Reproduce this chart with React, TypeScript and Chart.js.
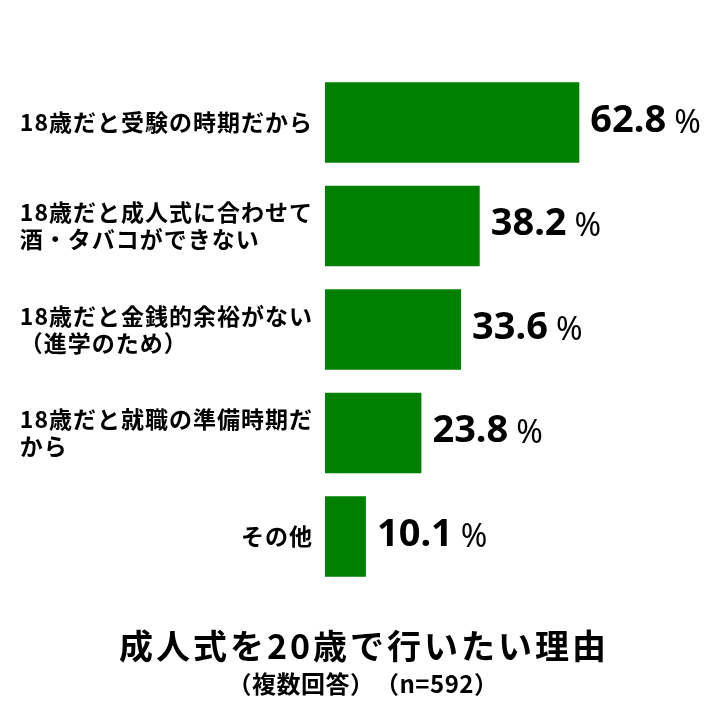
import React, { useEffect, useRef } from 'react';
import { Chart, registerables } from 'chart.js';

Chart.register(...registerables);

// category labels, one array entry per line
const categories: string[][] = [
  ['18歳だと受験の時期だから'],
  ['18歳だと成人式に合わせて', '酒・タバコができない'],
  ['18歳だと金銭的余裕がない', '（進学のため）'],
  ['18歳だと就職の準備時期だ', 'から'],
  ['その他'],
];
const values = [62.8, 38.2, 33.6, 23.8, 10.1];
const unit = '%';
const titleText = '成人式を20歳で行いたい理由';
const subtitleText = '（複数回答）　（n=592）';

const barColor = '#008000';
const jpFont = '"Noto Sans CJK JP"';

const textPlugin = {
  id: 'textPlugin',
  afterDatasetsDraw(chart: any) {
    const { ctx, chartArea } = chart;
    const yScale = chart.scales.y;
    const meta = chart.getDatasetMeta(0);
    ctx.save();
    ctx.fillStyle = '#000';

    // category labels: block right-aligned, lines left-aligned inside it
    ctx.font = `bold 23px ${jpFont}`;
    ctx.letterSpacing = '1px';
    ctx.textAlign = 'left';
    ctx.textBaseline = 'middle';
    categories.forEach((lines, i) => {
      const cy = yScale.getPixelForValue(i);
      const w = Math.max(...lines.map(l => ctx.measureText(l).width));
      const left = chartArea.left - 12 - w;
      lines.forEach((l, j) => ctx.fillText(l, left, cy + (j - (lines.length - 1) / 2) * 27));
    });

    // value labels
    ctx.letterSpacing = '0px';
    ctx.textBaseline = 'alphabetic';
    meta.data.forEach((bar: any, i: number) => {
      const x = bar.x + 11;
      const y = bar.y + 9;
      const num = values[i].toFixed(1);
      ctx.font = 'bold 38px "Noto Sans"';
      ctx.fillText(num, x, y);
      const w = ctx.measureText(num).width;
      ctx.font = '32px "Noto Sans"';
      ctx.fillText(unit, x + w + 8, y + 1);
    });

    // title + subtitle under the plot
    ctx.textAlign = 'center';
    ctx.textBaseline = 'middle';
    ctx.font = `bold 34px ${jpFont}`;
    ctx.letterSpacing = '3px';
    ctx.fillText(titleText, 364, 646);
    ctx.font = `bold 24px ${jpFont}`;
    ctx.letterSpacing = '0.5px';
    ctx.fillText(subtitleText, 363, 684);
    ctx.restore();
  },
};

export default function App() {
  const canvasRef = useRef<HTMLCanvasElement>(null);

  useEffect(() => {
    document.body.style.margin = '0';
    const ctx = canvasRef.current?.getContext('2d');
    if (!ctx) return;
    const chart = new Chart(ctx, {
      type: 'bar',
      data: {
        labels: categories.map(c => c.join('')),
        datasets: [
          {
            data: values,
            backgroundColor: barColor,
            borderWidth: 0,
            categoryPercentage: 1,
            barPercentage: 0.776,
          },
        ],
      },
      options: {
        indexAxis: 'y',
        animation: false,
        responsive: true,
        maintainAspectRatio: false,
        layout: { padding: { left: 325, right: 30.5, top: 70.75, bottom: 131.75 } },
        scales: {
          x: { display: false, min: 0, max: 90 },
          y: { display: false },
        },
        plugins: {
          legend: { display: false },
          tooltip: { enabled: false },
        },
      },
      plugins: [textPlugin],
    });
    return () => chart.destroy();
  }, []);

  return (
    <div style={{ width: 720, height: 720, position: 'relative', background: '#fff' }}>
      <canvas ref={canvasRef}></canvas>
    </div>
  );
}
